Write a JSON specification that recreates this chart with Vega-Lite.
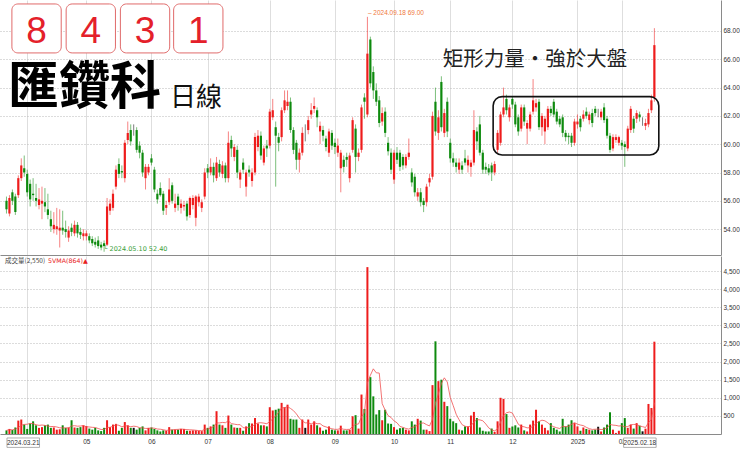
{
"$schema": "https://vega.github.io/schema/vega-lite/v6.json",
"padding": 0,
"background": "white",
"spacing": 1,
"bounds": "flush",
"config": {
  "view": {"stroke": null},
  "font": "Liberation Sans",
  "axis": {"labelFont": "Liberation Sans", "labelFontSize": 6.5, "labelColor": "#333", "ticks": false, "domainColor": "#8a8a8a", "gridColor": "#dedede", "title": null, "labelPadding": 2, "labelOverlap": false}
},
"datasets": {
"k": [
{"d":"2024-03-21","o":56.0,"h":56.3,"l":55.1,"c":55.4,"v":100},
{"d":"2024-03-22","o":55.1,"h":56.4,"l":54.9,"c":56.2,"v":140},
{"d":"2024-03-25","o":56.6,"h":56.8,"l":55.7,"c":56.0,"v":110},
{"d":"2024-03-26","o":56.3,"h":56.5,"l":55.0,"c":55.2,"v":180},
{"d":"2024-03-27","o":56.4,"h":57.8,"l":56.2,"c":57.6,"v":370},
{"d":"2024-03-28","o":57.6,"h":59.0,"l":57.4,"c":58.5,"v":400},
{"d":"2024-03-29","o":58.3,"h":59.2,"l":57.7,"c":58.0,"v":260},
{"d":"2024-04-01","o":57.9,"h":58.2,"l":56.3,"c":56.6,"v":140},
{"d":"2024-04-02","o":57.2,"h":57.5,"l":55.6,"c":56.1,"v":290},
{"d":"2024-04-03","o":56.5,"h":57.6,"l":56.0,"c":56.4,"v":350},
{"d":"2024-04-08","o":56.2,"h":57.2,"l":55.6,"c":56.0,"v":240},
{"d":"2024-04-09","o":55.7,"h":56.9,"l":55.4,"c":56.1,"v":170},
{"d":"2024-04-10","o":55.8,"h":57.0,"l":54.7,"c":56.0,"v":190},
{"d":"2024-04-11","o":55.9,"h":56.9,"l":55.2,"c":55.6,"v":240},
{"d":"2024-04-12","o":55.4,"h":56.5,"l":54.7,"c":55.0,"v":260},
{"d":"2024-04-15","o":54.7,"h":55.3,"l":53.8,"c":54.2,"v":170},
{"d":"2024-04-16","o":54.0,"h":55.2,"l":53.7,"c":54.3,"v":180},
{"d":"2024-04-17","o":54.0,"h":55.5,"l":53.6,"c":54.2,"v":120},
{"d":"2024-04-18","o":53.9,"h":55.4,"l":52.7,"c":54.1,"v":130},
{"d":"2024-04-19","o":54.1,"h":55.3,"l":53.6,"c":53.9,"v":240},
{"d":"2024-04-22","o":54.0,"h":54.6,"l":53.4,"c":53.8,"v":170},
{"d":"2024-04-23","o":53.4,"h":54.2,"l":53.1,"c":53.9,"v":180},
{"d":"2024-04-24","o":54.1,"h":54.4,"l":53.5,"c":53.8,"v":380},
{"d":"2024-04-25","o":53.7,"h":54.6,"l":53.5,"c":54.3,"v":180},
{"d":"2024-04-26","o":54.3,"h":54.5,"l":53.4,"c":53.7,"v":170},
{"d":"2024-04-29","o":53.8,"h":54.1,"l":53.3,"c":53.6,"v":190},
{"d":"2024-04-30","o":53.5,"h":54.0,"l":53.2,"c":53.7,"v":240},
{"d":"2024-05-02","o":53.5,"h":53.9,"l":53.2,"c":53.7,"v":220},
{"d":"2024-05-03","o":53.5,"h":53.7,"l":53.0,"c":53.2,"v":150},
{"d":"2024-05-06","o":53.3,"h":53.5,"l":52.8,"c":53.0,"v":120},
{"d":"2024-05-07","o":53.1,"h":53.4,"l":52.7,"c":52.9,"v":170},
{"d":"2024-05-08","o":53.2,"h":53.5,"l":52.6,"c":52.8,"v":100},
{"d":"2024-05-09","o":52.9,"h":53.1,"l":52.5,"c":52.7,"v":80},
{"d":"2024-05-10","o":53.0,"h":53.2,"l":52.4,"c":52.8,"v":170},
{"d":"2024-05-13","o":52.9,"h":56.2,"l":52.8,"c":55.6,"v":380},
{"d":"2024-05-14","o":55.3,"h":56.1,"l":55.0,"c":55.8,"v":190},
{"d":"2024-05-15","o":55.5,"h":56.8,"l":55.3,"c":56.5,"v":260},
{"d":"2024-05-16","o":57.0,"h":58.5,"l":56.8,"c":58.2,"v":280},
{"d":"2024-05-17","o":58.6,"h":59.0,"l":57.6,"c":57.9,"v":90},
{"d":"2024-05-20","o":58.1,"h":58.5,"l":57.6,"c":58.0,"v":170},
{"d":"2024-05-21","o":57.6,"h":60.3,"l":57.3,"c":60.1,"v":330},
{"d":"2024-05-22","o":60.3,"h":61.6,"l":60.0,"c":60.8,"v":240},
{"d":"2024-05-23","o":61.0,"h":61.4,"l":59.9,"c":60.2,"v":170},
{"d":"2024-05-24","o":61.0,"h":61.4,"l":60.6,"c":61.0,"v":170},
{"d":"2024-05-27","o":61.0,"h":61.2,"l":59.4,"c":59.6,"v":120},
{"d":"2024-05-28","o":59.9,"h":60.2,"l":59.0,"c":59.4,"v":170},
{"d":"2024-05-29","o":59.4,"h":59.6,"l":57.7,"c":58.0,"v":210},
{"d":"2024-05-30","o":57.6,"h":58.6,"l":56.8,"c":58.4,"v":100},
{"d":"2024-05-31","o":58.0,"h":58.6,"l":57.8,"c":58.4,"v":170},
{"d":"2024-06-03","o":59.0,"h":59.3,"l":58.5,"c":58.7,"v":180},
{"d":"2024-06-04","o":58.2,"h":58.4,"l":56.6,"c":56.8,"v":140},
{"d":"2024-06-05","o":56.5,"h":56.8,"l":55.8,"c":56.1,"v":100},
{"d":"2024-06-06","o":56.9,"h":57.3,"l":56.3,"c":56.4,"v":70},
{"d":"2024-06-07","o":56.5,"h":56.7,"l":55.0,"c":55.3,"v":100},
{"d":"2024-06-11","o":55.5,"h":56.0,"l":55.0,"c":55.7,"v":90},
{"d":"2024-06-12","o":55.9,"h":57.6,"l":55.7,"c":56.8,"v":190},
{"d":"2024-06-13","o":57.1,"h":57.3,"l":55.8,"c":56.0,"v":120},
{"d":"2024-06-14","o":55.5,"h":56.5,"l":55.2,"c":55.8,"v":120},
{"d":"2024-06-17","o":56.3,"h":56.5,"l":55.3,"c":55.7,"v":120},
{"d":"2024-06-18","o":55.5,"h":56.1,"l":55.1,"c":55.8,"v":140},
{"d":"2024-06-19","o":55.6,"h":56.0,"l":55.3,"c":55.7,"v":140},
{"d":"2024-06-20","o":55.8,"h":56.0,"l":54.6,"c":54.9,"v":90},
{"d":"2024-06-21","o":55.0,"h":56.3,"l":54.8,"c":56.2,"v":90},
{"d":"2024-06-24","o":55.7,"h":56.4,"l":55.4,"c":56.2,"v":100},
{"d":"2024-06-25","o":54.8,"h":56.4,"l":54.2,"c":56.3,"v":100},
{"d":"2024-06-26","o":55.9,"h":56.5,"l":55.6,"c":56.3,"v":90},
{"d":"2024-06-27","o":55.5,"h":56.1,"l":55.2,"c":55.9,"v":80},
{"d":"2024-06-28","o":56.3,"h":58.3,"l":56.1,"c":58.0,"v":260},
{"d":"2024-07-01","o":58.3,"h":58.6,"l":57.6,"c":58.0,"v":170},
{"d":"2024-07-02","o":58.0,"h":59.0,"l":57.8,"c":58.4,"v":210},
{"d":"2024-07-03","o":58.4,"h":58.7,"l":57.3,"c":57.8,"v":260},
{"d":"2024-07-04","o":57.6,"h":59.1,"l":57.4,"c":58.7,"v":630},
{"d":"2024-07-05","o":58.6,"h":58.9,"l":57.7,"c":58.0,"v":260},
{"d":"2024-07-08","o":57.9,"h":58.8,"l":57.6,"c":58.5,"v":240},
{"d":"2024-07-09","o":58.5,"h":58.7,"l":57.3,"c":57.6,"v":170},
{"d":"2024-07-10","o":57.6,"h":60.9,"l":57.3,"c":60.1,"v":510},
{"d":"2024-07-11","o":60.3,"h":60.6,"l":59.1,"c":59.7,"v":260},
{"d":"2024-07-12","o":59.1,"h":60.0,"l":58.8,"c":59.8,"v":180},
{"d":"2024-07-15","o":59.6,"h":59.9,"l":57.6,"c":58.0,"v":170},
{"d":"2024-07-16","o":57.5,"h":58.2,"l":56.9,"c":58.0,"v":170},
{"d":"2024-07-17","o":58.7,"h":59.0,"l":57.9,"c":58.2,"v":90},
{"d":"2024-07-18","o":57.0,"h":58.2,"l":56.3,"c":58.0,"v":210},
{"d":"2024-07-19","o":58.2,"h":58.5,"l":57.7,"c":58.0,"v":300},
{"d":"2024-07-22","o":57.4,"h":58.3,"l":57.0,"c":58.0,"v":290},
{"d":"2024-07-23","o":58.0,"h":60.8,"l":57.8,"c":60.5,"v":440},
{"d":"2024-07-26","o":59.8,"h":61.0,"l":59.5,"c":60.6,"v":290},
{"d":"2024-07-29","o":60.6,"h":60.9,"l":58.9,"c":59.2,"v":240},
{"d":"2024-07-30","o":58.7,"h":59.9,"l":58.5,"c":59.7,"v":240},
{"d":"2024-07-31","o":59.9,"h":60.3,"l":59.1,"c":59.7,"v":210},
{"d":"2024-08-01","o":59.9,"h":62.5,"l":59.7,"c":62.3,"v":740},
{"d":"2024-08-02","o":61.9,"h":63.2,"l":61.7,"c":62.4,"v":650},
{"d":"2024-08-05","o":61.2,"h":61.6,"l":57.0,"c":60.6,"v":670},
{"d":"2024-08-06","o":60.5,"h":60.8,"l":59.5,"c":60.1,"v":700},
{"d":"2024-08-07","o":60.5,"h":62.6,"l":60.2,"c":62.4,"v":860},
{"d":"2024-08-08","o":62.4,"h":63.8,"l":62.2,"c":63.1,"v":740},
{"d":"2024-08-09","o":62.7,"h":63.8,"l":62.4,"c":63.0,"v":810},
{"d":"2024-08-12","o":63.0,"h":63.3,"l":60.8,"c":61.0,"v":420},
{"d":"2024-08-13","o":61.0,"h":61.2,"l":59.3,"c":59.6,"v":400},
{"d":"2024-08-14","o":60.1,"h":60.3,"l":58.2,"c":58.9,"v":400},
{"d":"2024-08-15","o":58.9,"h":59.7,"l":58.0,"c":59.4,"v":170},
{"d":"2024-08-16","o":59.4,"h":61.2,"l":59.2,"c":60.8,"v":400},
{"d":"2024-08-19","o":60.9,"h":61.4,"l":60.2,"c":60.9,"v":170},
{"d":"2024-08-20","o":61.0,"h":62.0,"l":60.7,"c":61.7,"v":400},
{"d":"2024-08-21","o":62.1,"h":62.9,"l":61.8,"c":62.4,"v":260},
{"d":"2024-08-22","o":62.5,"h":63.3,"l":62.2,"c":62.7,"v":350},
{"d":"2024-08-23","o":62.4,"h":62.6,"l":61.2,"c":61.9,"v":240},
{"d":"2024-08-26","o":60.9,"h":61.6,"l":60.0,"c":61.3,"v":180},
{"d":"2024-08-27","o":61.0,"h":61.3,"l":60.2,"c":60.6,"v":90},
{"d":"2024-08-28","o":60.4,"h":60.6,"l":59.5,"c":59.8,"v":120},
{"d":"2024-08-29","o":59.4,"h":61.1,"l":59.1,"c":60.9,"v":210},
{"d":"2024-08-30","o":60.8,"h":61.0,"l":59.6,"c":59.9,"v":120},
{"d":"2024-09-02","o":60.1,"h":60.4,"l":59.3,"c":59.8,"v":100},
{"d":"2024-09-03","o":59.4,"h":60.4,"l":59.1,"c":59.9,"v":100},
{"d":"2024-09-04","o":58.3,"h":59.6,"l":56.6,"c":59.4,"v":230},
{"d":"2024-09-05","o":58.9,"h":59.2,"l":58.0,"c":58.4,"v":100},
{"d":"2024-09-06","o":59.1,"h":59.4,"l":58.4,"c":58.9,"v":100},
{"d":"2024-09-09","o":57.6,"h":59.4,"l":57.3,"c":59.2,"v":120},
{"d":"2024-09-10","o":59.6,"h":61.9,"l":59.4,"c":61.7,"v":490},
{"d":"2024-09-11","o":61.1,"h":61.4,"l":58.0,"c":59.1,"v":520},
{"d":"2024-09-12","o":59.1,"h":59.7,"l":58.8,"c":59.4,"v":150},
{"d":"2024-09-13","o":59.6,"h":62.8,"l":59.4,"c":62.6,"v":1090},
{"d":"2024-09-16","o":63.3,"h":63.6,"l":61.8,"c":63.0,"v":690},
{"d":"2024-09-18","o":62.1,"h":69.0,"l":61.9,"c":66.4,"v":4610},
{"d":"2024-09-19","o":67.4,"h":67.6,"l":64.0,"c":64.3,"v":1570},
{"d":"2024-09-20","o":65.1,"h":65.5,"l":63.2,"c":63.8,"v":1040},
{"d":"2024-09-23","o":63.8,"h":64.3,"l":62.7,"c":63.0,"v":540},
{"d":"2024-09-24","o":63.1,"h":63.4,"l":61.2,"c":61.5,"v":660},
{"d":"2024-09-25","o":61.6,"h":62.6,"l":61.3,"c":62.2,"v":380},
{"d":"2024-09-26","o":62.3,"h":62.6,"l":60.5,"c":60.8,"v":670},
{"d":"2024-09-27","o":60.1,"h":60.5,"l":59.2,"c":59.5,"v":290},
{"d":"2024-09-30","o":59.4,"h":59.7,"l":57.9,"c":58.2,"v":280},
{"d":"2024-10-01","o":57.5,"h":59.6,"l":57.2,"c":59.4,"v":190},
{"d":"2024-10-04","o":59.4,"h":59.8,"l":58.6,"c":58.9,"v":120},
{"d":"2024-10-07","o":59.4,"h":59.6,"l":58.1,"c":58.4,"v":160},
{"d":"2024-10-08","o":59.1,"h":59.3,"l":58.2,"c":58.5,"v":170},
{"d":"2024-10-09","o":58.5,"h":59.3,"l":58.3,"c":59.1,"v":120},
{"d":"2024-10-11","o":59.1,"h":60.4,"l":58.9,"c":59.4,"v":100},
{"d":"2024-10-14","o":58.0,"h":58.3,"l":57.0,"c":57.3,"v":350},
{"d":"2024-10-15","o":57.7,"h":57.9,"l":56.3,"c":56.6,"v":260},
{"d":"2024-10-16","o":56.3,"h":56.9,"l":56.0,"c":56.6,"v":420},
{"d":"2024-10-17","o":56.6,"h":56.9,"l":55.6,"c":55.9,"v":370},
{"d":"2024-10-18","o":56.0,"h":56.2,"l":55.2,"c":55.7,"v":120},
{"d":"2024-10-21","o":55.9,"h":57.2,"l":55.6,"c":57.0,"v":120},
{"d":"2024-10-22","o":57.3,"h":57.9,"l":57.0,"c":57.6,"v":80},
{"d":"2024-10-23","o":57.7,"h":62.3,"l":57.5,"c":62.0,"v":1350},
{"d":"2024-10-24","o":63.0,"h":64.0,"l":60.6,"c":60.9,"v":2560},
{"d":"2024-10-25","o":60.8,"h":62.4,"l":60.3,"c":61.9,"v":1460},
{"d":"2024-10-28","o":64.4,"h":64.8,"l":60.9,"c":61.2,"v":1500},
{"d":"2024-10-29","o":60.8,"h":62.5,"l":60.5,"c":62.2,"v":890},
{"d":"2024-10-30","o":63.0,"h":63.3,"l":60.5,"c":60.9,"v":770},
{"d":"2024-11-01","o":60.1,"h":60.4,"l":58.7,"c":59.0,"v":420},
{"d":"2024-11-04","o":59.0,"h":59.4,"l":58.4,"c":58.7,"v":350},
{"d":"2024-11-05","o":58.7,"h":59.0,"l":58.0,"c":58.4,"v":300},
{"d":"2024-11-06","o":58.2,"h":59.0,"l":57.9,"c":58.7,"v":120},
{"d":"2024-11-07","o":58.5,"h":58.8,"l":57.9,"c":58.2,"v":100},
{"d":"2024-11-08","o":59.0,"h":59.6,"l":58.5,"c":58.7,"v":210},
{"d":"2024-11-11","o":58.5,"h":59.2,"l":58.0,"c":58.9,"v":210},
{"d":"2024-11-12","o":58.4,"h":58.9,"l":57.7,"c":58.7,"v":510},
{"d":"2024-11-13","o":58.7,"h":62.4,"l":58.5,"c":61.0,"v":610},
{"d":"2024-11-14","o":60.9,"h":61.2,"l":59.6,"c":60.2,"v":440},
{"d":"2024-11-15","o":61.4,"h":62.0,"l":59.2,"c":59.4,"v":180},
{"d":"2024-11-18","o":59.4,"h":59.6,"l":57.9,"c":58.2,"v":90},
{"d":"2024-11-19","o":58.4,"h":58.7,"l":57.9,"c":58.2,"v":70},
{"d":"2024-11-20","o":58.3,"h":58.6,"l":57.8,"c":58.0,"v":70},
{"d":"2024-11-21","o":58.5,"h":58.7,"l":57.4,"c":58.0,"v":150},
{"d":"2024-11-22","o":58.0,"h":58.8,"l":57.8,"c":58.6,"v":60},
{"d":"2024-11-25","o":59.6,"h":61.0,"l":59.4,"c":60.8,"v":350},
{"d":"2024-11-26","o":60.1,"h":62.3,"l":59.9,"c":62.1,"v":1000},
{"d":"2024-11-27","o":62.1,"h":64.0,"l":61.9,"c":62.6,"v":970},
{"d":"2024-11-28","o":63.2,"h":63.5,"l":62.1,"c":62.4,"v":550},
{"d":"2024-11-29","o":61.9,"h":62.8,"l":61.6,"c":62.6,"v":170},
{"d":"2024-12-02","o":63.2,"h":63.4,"l":62.5,"c":62.8,"v":210},
{"d":"2024-12-03","o":62.8,"h":63.0,"l":61.2,"c":61.4,"v":240},
{"d":"2024-12-04","o":61.9,"h":62.1,"l":60.6,"c":60.9,"v":180},
{"d":"2024-12-05","o":61.1,"h":62.8,"l":60.9,"c":62.6,"v":260},
{"d":"2024-12-06","o":62.6,"h":62.8,"l":61.3,"c":61.6,"v":100},
{"d":"2024-12-09","o":61.1,"h":61.7,"l":60.0,"c":61.5,"v":70},
{"d":"2024-12-10","o":61.1,"h":62.3,"l":60.9,"c":62.1,"v":260},
{"d":"2024-12-11","o":62.3,"h":64.6,"l":62.1,"c":63.1,"v":370},
{"d":"2024-12-12","o":62.6,"h":63.2,"l":62.3,"c":62.9,"v":670},
{"d":"2024-12-13","o":63.0,"h":63.2,"l":61.0,"c":61.2,"v":350},
{"d":"2024-12-16","o":61.2,"h":62.2,"l":60.6,"c":62.0,"v":260},
{"d":"2024-12-17","o":60.9,"h":62.0,"l":60.0,"c":61.8,"v":170},
{"d":"2024-12-18","o":61.2,"h":62.7,"l":61.0,"c":62.5,"v":100},
{"d":"2024-12-19","o":62.5,"h":62.7,"l":62.0,"c":62.2,"v":300},
{"d":"2024-12-20","o":63.0,"h":63.2,"l":61.9,"c":62.1,"v":170},
{"d":"2024-12-23","o":62.3,"h":62.5,"l":61.4,"c":61.6,"v":120},
{"d":"2024-12-24","o":61.8,"h":62.0,"l":61.2,"c":61.4,"v":70},
{"d":"2024-12-25","o":61.9,"h":62.1,"l":60.5,"c":60.8,"v":420},
{"d":"2024-12-26","o":60.8,"h":61.0,"l":60.2,"c":60.5,"v":210},
{"d":"2024-12-27","o":60.6,"h":60.8,"l":60.0,"c":60.5,"v":260},
{"d":"2024-12-30","o":60.6,"h":60.8,"l":59.8,"c":60.1,"v":380},
{"d":"2024-12-31","o":60.1,"h":61.8,"l":59.9,"c":61.6,"v":300},
{"d":"2025-01-02","o":61.4,"h":62.1,"l":61.1,"c":61.6,"v":210},
{"d":"2025-01-03","o":61.8,"h":62.0,"l":60.9,"c":61.2,"v":90},
{"d":"2025-01-06","o":61.8,"h":62.4,"l":61.6,"c":62.1,"v":180},
{"d":"2025-01-07","o":62.3,"h":62.6,"l":61.8,"c":62.0,"v":140},
{"d":"2025-01-08","o":61.7,"h":62.3,"l":61.4,"c":62.1,"v":120},
{"d":"2025-01-09","o":62.2,"h":62.5,"l":61.2,"c":61.5,"v":100},
{"d":"2025-01-10","o":62.5,"h":62.7,"l":62.0,"c":62.2,"v":120},
{"d":"2025-01-13","o":62.2,"h":62.5,"l":61.9,"c":62.2,"v":200},
{"d":"2025-01-14","o":61.9,"h":62.5,"l":61.7,"c":62.3,"v":70},
{"d":"2025-01-15","o":62.6,"h":62.9,"l":61.5,"c":61.7,"v":180},
{"d":"2025-01-16","o":61.8,"h":62.0,"l":60.4,"c":60.6,"v":260},
{"d":"2025-01-17","o":60.6,"h":60.8,"l":59.4,"c":59.6,"v":600},
{"d":"2025-01-20","o":59.7,"h":60.7,"l":59.5,"c":60.5,"v":120},
{"d":"2025-01-21","o":60.3,"h":60.7,"l":60.1,"c":60.5,"v":30},
{"d":"2025-01-22","o":60.1,"h":60.6,"l":59.9,"c":60.5,"v":90},
{"d":"2025-02-03","o":60.1,"h":60.3,"l":59.6,"c":59.9,"v":300},
{"d":"2025-02-04","o":60.0,"h":60.2,"l":58.4,"c":59.8,"v":440},
{"d":"2025-02-05","o":59.7,"h":61.3,"l":59.5,"c":61.1,"v":170},
{"d":"2025-02-06","o":61.0,"h":62.7,"l":60.8,"c":62.5,"v":260},
{"d":"2025-02-07","o":61.8,"h":62.0,"l":60.8,"c":61.1,"v":150},
{"d":"2025-02-10","o":61.8,"h":62.4,"l":61.5,"c":62.2,"v":300},
{"d":"2025-02-11","o":62.1,"h":62.3,"l":61.6,"c":61.9,"v":230},
{"d":"2025-02-12","o":61.7,"h":61.9,"l":61.3,"c":61.7,"v":74},
{"d":"2025-02-13","o":61.3,"h":61.8,"l":61.0,"c":61.5,"v":147},
{"d":"2025-02-14","o":61.4,"h":62.5,"l":61.2,"c":62.2,"v":830},
{"d":"2025-02-17","o":62.4,"h":63.5,"l":62.2,"c":63.1,"v":719},
{"d":"2025-02-18","o":63.3,"h":68.2,"l":63.0,"c":67.0,"v":2550}
]
},
"vconcat": [
{
  "width": 721,
  "height": 255,
  "layer": [
    {
      "data": {"name": "k"},
      "transform": [{"window": [{"op": "row_number", "as": "n"}]}],
      "mark": {"type": "rule", "strokeWidth": 1, "opacity": 0.55},
      "encoding": {
        "x": {"field": "n", "type": "quantitative", "scale": {"domain": [0.5, 240.83], "nice": false, "zero": false},
              "axis": {"values": [8,28,50,69,90,112,132,151,172,194,209], "tickCount": 40, "labels": false, "grid": true, "gridDash": [], "domain": true}},
        "y": {"field": "l", "type": "quantitative", "scale": {"domain": [52.17, 70.19], "nice": false, "zero": false},
              "axis": {"orient": "right", "values": [54,56,58,60,62,64,66,68], "tickCount": 40, "format": ".2f", "labelOverlap": false, "labelFlush": false, "grid": true, "gridDash": [1,2], "gridColor": "#b8b8b8", "domain": true}},
        "y2": {"field": "h"},
        "color": {"condition": [{"test": "datum.c > datum.o", "value": "#ee1c1c"}, {"test": "datum.c < datum.o", "value": "#0e8a0e"}], "value": "#111111"}
      }
    },
    {
      "data": {"name": "k"},
      "transform": [{"window": [{"op": "row_number", "as": "n"}]}],
      "mark": {"type": "bar", "width": 2.2},
      "encoding": {
        "x": {"field": "n", "type": "quantitative"},
        "y": {"field": "o", "type": "quantitative"},
        "y2": {"field": "c"},
        "color": {"condition": [{"test": "datum.c > datum.o", "value": "#ee1c1c"}, {"test": "datum.c < datum.o", "value": "#0e8a0e"}], "value": "#111111"}
      }
    },
    {
      "data": {"values": [{}]},
      "mark": {"type": "rect", "fillOpacity": 0, "stroke": "#111111", "strokeWidth": 1.6, "cornerRadius": 9},
      "encoding": {"x": {"datum": 165.5, "type": "quantitative"}, "x2": {"datum": 221.5}, "y": {"datum": 63.36, "type": "quantitative"}, "y2": {"datum": 59.24}}
    },
    {
      "data": {"values": [{}]},
      "mark": {"type": "rect", "fill": "white", "stroke": "#e06a6a", "strokeWidth": 1, "cornerRadius": 6},
      "encoding": {"x": {"datum": 2.83, "type": "quantitative"}, "x2": {"datum": 19.5}, "y": {"datum": 69.91, "type": "quantitative"}, "y2": {"datum": 66.45}}
    },
    {
      "data": {"values": [{}]},
      "mark": {"type": "rect", "fill": "white", "stroke": "#e06a6a", "strokeWidth": 1, "cornerRadius": 6},
      "encoding": {"x": {"datum": 21.17, "type": "quantitative"}, "x2": {"datum": 37.83}, "y": {"datum": 69.91, "type": "quantitative"}, "y2": {"datum": 66.45}}
    },
    {
      "data": {"values": [{}]},
      "mark": {"type": "rect", "fill": "white", "stroke": "#e06a6a", "strokeWidth": 1, "cornerRadius": 6},
      "encoding": {"x": {"datum": 39.5, "type": "quantitative"}, "x2": {"datum": 56.17}, "y": {"datum": 69.91, "type": "quantitative"}, "y2": {"datum": 66.45}}
    },
    {
      "data": {"values": [{}]},
      "mark": {"type": "rect", "fill": "white", "stroke": "#e06a6a", "strokeWidth": 1, "cornerRadius": 6},
      "encoding": {"x": {"datum": 57.5, "type": "quantitative"}, "x2": {"datum": 74.17}, "y": {"datum": 69.91, "type": "quantitative"}, "y2": {"datum": 66.45}}
    },
    {
      "data": {"values": [{}]},
      "mark": {"type": "text", "text": "8", "font": "Liberation Sans", "fontSize": 37, "color": "#e4202a", "align": "center", "baseline": "alphabetic"},
      "encoding": {"x": {"datum": 11.17, "type": "quantitative"}, "y": {"datum": 67.15, "type": "quantitative"}}
    },
    {
      "data": {"values": [{}]},
      "mark": {"type": "text", "text": "4", "font": "Liberation Sans", "fontSize": 37, "color": "#e4202a", "align": "center", "baseline": "alphabetic"},
      "encoding": {"x": {"datum": 29.5, "type": "quantitative"}, "y": {"datum": 67.15, "type": "quantitative"}}
    },
    {
      "data": {"values": [{}]},
      "mark": {"type": "text", "text": "3", "font": "Liberation Sans", "fontSize": 37, "color": "#e4202a", "align": "center", "baseline": "alphabetic"},
      "encoding": {"x": {"datum": 47.83, "type": "quantitative"}, "y": {"datum": 67.15, "type": "quantitative"}}
    },
    {
      "data": {"values": [{}]},
      "mark": {"type": "text", "text": "1", "font": "Liberation Sans", "fontSize": 37, "color": "#e4202a", "align": "center", "baseline": "alphabetic"},
      "encoding": {"x": {"datum": 65.83, "type": "quantitative"}, "y": {"datum": 67.15, "type": "quantitative"}}
    },
    {
      "data": {"values": [{}]},
      "mark": {"type": "text", "text": "匯鑽科", "font": "Noto Sans CJK TC", "fontSize": 51, "fontWeight": "bold", "color": "#000000", "align": "left", "baseline": "alphabetic"},
      "encoding": {"x": {"datum": 1.5, "type": "quantitative"}, "y": {"datum": 62.81, "type": "quantitative"}}
    },
    {
      "data": {"values": [{}]},
      "mark": {"type": "text", "text": "日線", "font": "Noto Sans CJK TC", "fontSize": 26, "color": "#111111", "align": "left", "baseline": "alphabetic"},
      "encoding": {"x": {"datum": 56.3, "type": "quantitative"}, "y": {"datum": 62.7, "type": "quantitative"}}
    },
    {
      "data": {"values": [{}]},
      "mark": {"type": "text", "text": "矩形力量・強於大盤", "font": "Noto Sans CJK TC", "fontSize": 20.5, "color": "#222222", "align": "left", "baseline": "alphabetic"},
      "encoding": {"x": {"datum": 148.5, "type": "quantitative"}, "y": {"datum": 65.56, "type": "quantitative"}}
    },
    {
      "data": {"values": [{}]},
      "mark": {"type": "text", "text": "– 2024.09.18  69.00", "font": "Liberation Sans", "fontSize": 6.5, "color": "#f0783c", "align": "left", "baseline": "alphabetic"},
      "encoding": {"x": {"datum": 123.17, "type": "quantitative"}, "y": {"datum": 69.16, "type": "quantitative"}}
    },
    {
      "data": {"values": [{}]},
      "mark": {"type": "text", "text": "└ 2024.05.10  52.40", "font": "DejaVu Sans", "fontSize": 6.5, "color": "#3aa03a", "align": "left", "baseline": "alphabetic"},
      "encoding": {"x": {"datum": 33.83, "type": "quantitative"}, "y": {"datum": 52.43, "type": "quantitative"}}
    }
  ]
},
{
  "width": 721,
  "height": 178,
  "layer": [
    {
      "data": {"name": "k"},
      "transform": [{"window": [{"op": "row_number", "as": "n"}]}],
      "mark": {"type": "bar", "width": 2},
      "encoding": {
        "x": {"field": "n", "type": "quantitative", "scale": {"domain": [0.5, 240.83], "nice": false, "zero": false},
              "axis": {"values": [8,28,50,69,90,112,132,151,172,194,209], "tickCount": 40, "grid": true, "gridDash": [], "domain": true, "labelPadding": 4, "labelOverlap": false,
                       "labelExpr": "datum.value==8?'':datum.value==28?'05':datum.value==50?'06':datum.value==69?'07':datum.value==90?'08':datum.value==112?'09':datum.value==132?'10':datum.value==151?'11':datum.value==172?'12':datum.value==194?'2025':'02'"}},
        "y": {"field": "v", "type": "quantitative", "scale": {"domain": [0, 4917], "nice": false},
              "axis": {"orient": "right", "values": [500,1000,1500,2000,2500,3000,3500,4000,4500], "tickCount": 40, "format": ",d", "labelOverlap": false, "labelFlush": false, "grid": true, "gridDash": [1,2], "gridColor": "#b8b8b8", "domain": true}},
        "color": {"condition": [{"test": "datum.c > datum.o", "value": "#ee1c1c"}, {"test": "datum.c < datum.o", "value": "#0e8a0e"}], "value": "#111111"}
      }
    },
    {
      "data": {"name": "k"},
      "transform": [{"window": [{"op": "row_number", "as": "n"}]}, {"window": [{"op": "mean", "field": "v", "as": "ma"}], "frame": [-4, 0]}],
      "mark": {"type": "line", "color": "#f05050", "strokeWidth": 0.8},
      "encoding": {"x": {"field": "n", "type": "quantitative"}, "y": {"field": "ma", "type": "quantitative"}}
    },
    {
      "data": {"values": [{}]},
      "mark": {"type": "text", "text": "成交量(2,550)", "font": "Noto Sans CJK TC", "fontSize": 6.5, "color": "#444444", "align": "left", "baseline": "alphabetic"},
      "encoding": {"x": {"datum": 0.5, "type": "quantitative"}, "y": {"datum": 4724, "type": "quantitative"}}
    },
    {
      "data": {"values": [{}]},
      "mark": {"type": "text", "text": "5VMA(864)▲", "font": "DejaVu Sans", "fontSize": 6.3, "color": "#e82020", "align": "left", "baseline": "alphabetic"},
      "encoding": {"x": {"datum": 15.0, "type": "quantitative"}, "y": {"datum": 4724, "type": "quantitative"}}
    },
    {
      "data": {"values": [{}]},
      "mark": {"type": "rect", "fill": "white", "stroke": "#9a9a9a", "strokeWidth": 0.8},
      "encoding": {"x": {"datum": 1.17, "type": "quantitative"}, "x2": {"datum": 12.17}, "y": {"datum": -110, "type": "quantitative"}, "y2": {"datum": -370}}
    },
    {
      "data": {"values": [{}]},
      "mark": {"type": "text", "text": "2024.03.21", "font": "Liberation Sans", "fontSize": 6.5, "color": "#333333", "align": "center", "baseline": "middle"},
      "encoding": {"x": {"datum": 6.67, "type": "quantitative"}, "y": {"datum": -245, "type": "quantitative"}}
    },
    {
      "data": {"values": [{}]},
      "mark": {"type": "rect", "fill": "white", "stroke": "#9a9a9a", "strokeWidth": 0.8},
      "encoding": {"x": {"datum": 209.6, "type": "quantitative"}, "x2": {"datum": 220.6}, "y": {"datum": -110, "type": "quantitative"}, "y2": {"datum": -370}}
    },
    {
      "data": {"values": [{}]},
      "mark": {"type": "text", "text": "2025.02.18", "font": "Liberation Sans", "fontSize": 6.5, "color": "#333333", "align": "center", "baseline": "middle"},
      "encoding": {"x": {"datum": 215.1, "type": "quantitative"}, "y": {"datum": -245, "type": "quantitative"}}
    }
  ]
}
]
}
